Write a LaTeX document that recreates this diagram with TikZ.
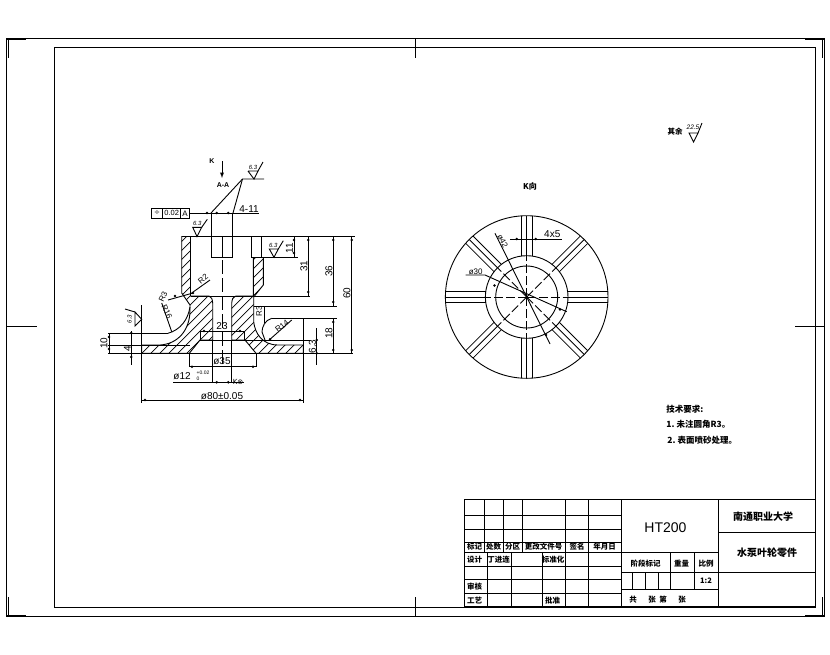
\documentclass[tikz,border=0pt]{standalone}
\usepackage{fontspec}
\setmainfont{Liberation Sans}
\newfontfamily\cjk{Noto Sans CJK SC}
\newfontfamily\symb{DejaVu Sans}
\newcommand{\hubleft}{(181.7,236.5) -- (190.5,236.5) -- (190.5,296) -- (209,296) .. controls (212,298) .. (212.7,303) -- (212.7,340) -- (200,340) -- (189.3,353.3) -- (141.7,353.3) -- (141.7,345) -- (160,345) .. controls (178,344) and (190,330) .. (190,310) -- (190,305) -- (181.7,293) -- cycle}
\newcommand{\hubright}{(253.3,257.5) -- (263.3,257.5) -- (263.3,285) -- (253.7,297) -- (253.7,322) .. controls (255,333) and (262,345) .. (278,345) -- (303.3,345) -- (303.3,353.3) -- (256,353.3) -- (245,340) -- (231.7,340) -- (231.7,303) .. controls (232.5,298) .. (236,296) -- (253.3,296) -- cycle}
\begin{document}
\begin{tikzpicture}[x=1pt,y=-1pt,line width=0.9pt]
	\tikzstyle{thin line}=[line width=0.8pt]
	\tikzstyle{hatchline}=[line width=0.7pt]
	\tikzstyle{centerline}=[line width=0.8pt,dash pattern=on 14pt off 4pt]
	\tikzstyle{dim}=[inner sep=0pt,font=\fontsize{10}{10}\selectfont]
	\tikzstyle{smalldim}=[inner sep=0pt,font=\fontsize{8}{8}\selectfont]
	\tikzstyle{surf}=[inner sep=0pt,font=\itshape\fontsize{6}{6}\selectfont]
	\tikzstyle{cell}=[inner sep=0pt,font=\cjk\bfseries\fontsize{7.5}{8}\selectfont]
	\tikzstyle{notetext}=[inner sep=0pt,anchor=west,font=\cjk\bfseries\fontsize{8.5}{9}\selectfont]
	\tikzstyle{dimdot}=[fill=black,draw=none]
	\useasboundingbox (0,0) rectangle (830,654);

	%%% frames
	\draw (6.5,38.5) rectangle (824.3,616.7);
	\draw (54.5,47.3) rectangle (815.3,607.3);
	\draw[line width=1.6pt] (7,39.5) -- (26,39.5);
	\draw (8.5,39) -- (8.5,58);
	\draw[line width=1.6pt] (805,615.5) -- (824,615.5);
	\draw (822.3,597) -- (822.3,616);
	\draw[line width=1.6pt] (805,39.5) -- (824,39.5);
	\draw (822.3,39) -- (822.3,58);
	\draw[line width=1.6pt] (7,615.5) -- (26,615.5);
	\draw (8.5,597) -- (8.5,616);
	\draw (7,326) -- (37,326);
	\draw (795,326) -- (824,326);
	\draw (415,39) -- (415,58);
	\draw (415,597) -- (415,616);

	%%% section view
	\begin{scope}
		\clip \hubleft;
		\foreach \hx in {36,45,...,300}
			\draw[hatchline] (\hx,360) -- ++(140,-140);
	\end{scope}
	\begin{scope}
		\clip \hubright;
		\foreach \hx in {126,135,...,320}
			\draw[hatchline] (\hx,360) -- ++(140,-140);
	\end{scope}
	\draw \hubleft;
	\draw \hubright;
	\draw (181.7,236.5) -- (355,236.5);
	\draw (211.3,213) rectangle (232.7,257.5);
	\draw (222.5,236.5) -- (222.5,257.5);
	\draw (251.7,236.5) -- (251.7,257.5);
	\draw (261.7,236.5) -- (261.7,257.5);
	\draw (251.7,257.5) -- (298,257.5);
	\draw (190.5,296) -- (310,296);
	\draw[centerline] (222.5,260) -- (222.5,366);
	\draw (168,333.3) .. controls (180,330) and (188,320) .. (190,307);
	\draw (108,333.3) -- (168,333.3);
	\draw (108,345) -- (190,345);
	\draw (108,353.3) -- (353,353.3);
	\draw (253.7,306) -- (337,306);
	\draw (271.7,318.3) -- (337,318.3);
	\draw (271.7,318.3) .. controls (265,320) and (262,327) .. (262,332) -- (265,340);
	\draw (200,331) -- (200,340);
	\draw (244.3,331) -- (244.3,340);
	\draw (200,340) -- (310,340);
	\draw (141.7,305) -- (141.7,403);
	\draw (303.3,318.3) -- (303.3,403);
	\draw (212.7,340) -- (212.7,383);
	\draw (231.7,340) -- (231.7,383);
	\draw (189.3,353.3) -- (189.3,367);
	\draw (256,353.3) -- (256,367);

	%%% dimensions
	\draw (109,333.3) -- (109,353.3);
	\node[dim,rotate=90] (dimten) at (104,343) {10};
	\draw (131.3,331) -- (131.3,365);
	\node[dim,rotate=90] (dimfour) at (127.5,349) {4};
	\draw (294,236.5) -- (294,257.5);
	\node[dim,rotate=90] (dimeleven) at (289.5,248) {11};
	\draw (308.3,236.5) -- (308.3,296);
	\node[dim,rotate=90] (dimthirtyone) at (304,266) {31};
	\draw (333.3,236.5) -- (333.3,306);
	\node[dim,rotate=90] (dimthirtysix) at (329,271) {36};
	\draw (351.7,236.5) -- (351.7,353.3);
	\node[dim,rotate=90] (dimsixty) at (347,293) {60};
	\draw (333.3,318.3) -- (333.3,353.3);
	\node[dim,rotate=90] (dimeighteen) at (329,333) {18};
	\draw (316.7,328) -- (316.7,365);
	\node[dim,rotate=90] (dimsixthree) at (312.5,346.5) {6.3};
	\draw (200,331) -- (244.3,331);
	\node[dim] (dimtwothree) at (222,326.5) {23};
	\draw (189.3,366.7) -- (256,366.7);
	\node[dim] (dimthirtyfive) at (222,361.5) {ø35};
	\draw (173,382.3) -- (244,382.3);
	\node[dim,anchor=west] (dimtwelve) at (173,376.5) {ø12};
	\node[inner sep=0pt,font=\fontsize{5}{5}\selectfont] (dimtol) at (203,373) {+0.02};
	\node[inner sep=0pt,font=\fontsize{5}{5}\selectfont] (dimtolb) at (198,379) {0};
	\node[inner sep=0pt,font=\symb\fontsize{7}{7}\selectfont] (kview) at (238,382) {K⊗};
	\draw (141.7,400) -- (303.3,400);
	\node[dim] (dimeighty) at (222,396) {ø80±0.05};
	\foreach \dotx/\doty in {109/337,109/349,131.3/333,131.3/357,294/240,294/253,308.3/240,308.3/292,333.3/240,333.3/302,351.7/240,351.7/350,333.3/322,333.3/350,316.7/340,316.7/353.3,204/331,240/331,192/366.7,253/366.7,216.7/382.3,228.3/382.3,145/400,300/400,207/213,216.7/213,228.3/213,175/296,193/293,270/339.3}
		\fill[dimdot] (\dotx,\doty) circle (1.4pt);

	%%% leaders
	\draw (191.7,293) -- (210,280);
	\node[smalldim,rotate=40] (rtwo) at (203,279) {R2};
	\draw (168,300) -- (193,293);
	\node[smalldim,rotate=65] (rthreea) at (163,297) {R3};
	\draw (161.7,303) -- (171.7,331.7);
	\node[smalldim,rotate=-65] (rsixteen) at (167,312) {R16};
	\draw (258,306) -- (264,306) -- (264,323);
	\node[smalldim,rotate=90] (rthreeb) at (259,311) {R3};
	\draw (270,339.3) -- (291.7,320);
	\node[smalldim,rotate=38] (rfourteen) at (282,326) {R14};

	%%% top of section
	\node[inner sep=0pt,font=\bfseries\fontsize{7}{7}\selectfont] (kmark) at (212,161) {K};
	\draw[-latex] (222,161) -- (222,178);
	\node[inner sep=0pt,font=\bfseries\fontsize{7}{7}\selectfont] (aamark) at (223,185) {A-A};
	\draw (264,179) -- (242.5,179) -- (211,213);
	\draw (242.5,179) -- (233,213);
	\draw (189.3,213) -- (258.5,213);
	\node[dim,anchor=south] (holes) at (249,213) {4-11};
	\draw (151.7,208.3) rectangle (189.3,218.3);
	\draw (162.7,208.3) -- (162.7,218.3);
	\draw (180.7,208.3) -- (180.7,218.3);
	\node[inner sep=0pt,font=\fontsize{9}{9}\selectfont] (tolsym) at (157.2,213.3) {÷};
	\node[inner sep=0pt,font=\fontsize{7.5}{8}\selectfont] (tolval) at (171.7,213.3) {0.02};
	\node[inner sep=0pt,font=\fontsize{8}{8}\selectfont] (toldatum) at (185,213.3) {A};
	%% surface marks
	\draw (248,171) -- (258,171) -- (254,179) -- (248,171);
	\draw (258,171) -- (263,162);
	\node[surf] (surfa) at (253,167) {6.3};
	\draw (192.7,227.3) -- (201.7,227.3) -- (197,236.5) -- cycle;
	\draw (201.7,227.3) -- (207.3,219.3);
	\node[surf] (surfb) at (197.3,223.5) {6.3};
	\draw (269.3,249) -- (278.3,249) -- (274,257.3) -- cycle;
	\draw (278.3,249) -- (283.3,240.7);
	\node[surf] (surfc) at (273.3,245) {6.3};
	\draw (135,312) -- (135,326) -- (141.7,319.3) -- cycle;
	\draw (135,312) -- (125,309);
	\node[surf,rotate=90] (surfd) at (129.5,319) {6.3};

	%%% K view
	\node[inner sep=0pt,font=\cjk\bfseries\fontsize{8}{8}\selectfont] (kdir) at (530,186.5) {K向};
	\begin{scope}[shift={(526.7,297)}]
		\foreach \ang in {0,45,...,315} {
			\begin{scope}[rotate=\ang]
				\draw[thin line] (41,-5.2) -- (81,-5.2);
				\draw[thin line] (41,5.2) -- (81,5.2);
				\draw[thin line] (41.3,0) -- (81.3,0);
				\draw[centerline,dash pattern=on 9pt off 3pt] (0,0) -- (41.3,0);
			\end{scope}
		}
		\draw (0,0) circle (81.3);
		\draw (0,0) circle (41.3);
		\draw (0,0) circle (31);
	\end{scope}
	\draw (495,233.3) -- (550,344);
	\node[smalldim,rotate=-62] (phifortytwo) at (502.7,241) {ø42};
	\draw (465.7,275) -- (485,275) -- (566.7,311.7);
	\node[smalldim,anchor=south] (phithirty) at (475.7,275.5) {ø30};
	\draw (510,239) -- (561.7,239);
	\node[dim] (ribsize) at (552.3,234.5) {4x5};
	\foreach \dotx/\doty in {516.7/239,535.7/239,494.5/285.5,560/309.5,546/335,526.7/297}
		\fill[dimdot] (\dotx,\doty) circle (1.4pt);

	%%% notes
	\node[inner sep=0pt,font=\cjk\bfseries\fontsize{7.5}{8}\selectfont] (rest) at (675,132) {其余};
	\draw (689,133) -- (698,133) -- (693.5,142) -- cycle;
	\draw (698,133) -- (702,123);
	\node[inner sep=0pt,font=\itshape\fontsize{6.5}{7}\selectfont] (restval) at (693,127) {22.5};
	\node[notetext] (techreq) at (666,409.5) {技术要求:};
	\node[notetext] (noteone) at (666,424.5) {1.~未注圆角R3。};
	\node[notetext] (notetwo) at (667,440.5) {2.~表面喷砂处理。};

	%%% title block
	\draw (464.7,499) rectangle (815,606.7);
	\foreach \ly in {515.7,529.3,542.3}
		\draw (464.7,\ly) -- (621,\ly);
	\draw (464.7,552) -- (718.3,552);
	\foreach \ly in {566,579.5,593}
		\draw (464.7,\ly) -- (621,\ly);
	\foreach \lx in {484,503.3,522.3}
		\draw (\lx,499) -- (\lx,552);
	\foreach \lx in {565.7,588.7,621}
		\draw (\lx,499) -- (\lx,606.7);
	\foreach \lx in {487.3,511.7,542}
		\draw (\lx,552) -- (\lx,606.7);
	\draw (718.3,499) -- (718.3,606.7);
	\draw (718.3,532.7) -- (815,532.7);
	\draw (621,572.3) -- (815,572.3);
	\draw (621,589.3) -- (718.3,589.3);
	\foreach \lx in {670,694}
		\draw (\lx,552) -- (\lx,589.3);
	\foreach \lx in {632.3,645.7,658.3}
		\draw (\lx,572.3) -- (\lx,589.3);

	\node[inner sep=0pt,font=\fontsize{14}{14}\selectfont] (material) at (665.5,528) {HT200};
	\node[inner sep=0pt,font=\cjk\bfseries\fontsize{10}{10}\selectfont] (school) at (763,516.5) {南通职业大学};
	\node[inner sep=0pt,font=\cjk\bfseries\fontsize{10}{10}\selectfont] (partname) at (767,552.5) {水泵叶轮零件};
	\node[cell] (ca) at (474.5,546.5) {标记};
	\node[cell] (cb) at (493.5,546.5) {处数};
	\node[cell] (cc) at (512.5,546.5) {分区};
	\node[cell] (cd) at (543.5,546.5) {更改文件号};
	\node[cell] (ce) at (577,546.5) {签名};
	\node[cell] (cf) at (604.5,546.5) {年月日};
	\node[cell] (cg) at (474.5,559.5) {设计};
	\node[cell] (ch) at (498.5,559.5) {丁进连};
	\node[cell] (ci) at (553,559.5) {标准化};
	\node[cell] (cj) at (474.5,586.5) {审核};
	\node[cell] (ck) at (474.5,600.5) {工艺};
	\node[cell] (cl) at (552.5,600.5) {批准};
	\node[cell] (cm) at (645.5,564) {阶段标记};
	\node[cell] (cn) at (681.5,564) {重量};
	\node[cell] (co) at (706,564) {比例};
	\node[cell] (cp) at (706,581) {1:2};
	\node[cell] (cq) at (633,599.5) {共};
	\node[cell] (cr) at (652,599.5) {张};
	\node[cell] (cs) at (663,599.5) {第};
	\node[cell] (ct) at (682,599.5) {张};
\end{tikzpicture}
\end{document}
